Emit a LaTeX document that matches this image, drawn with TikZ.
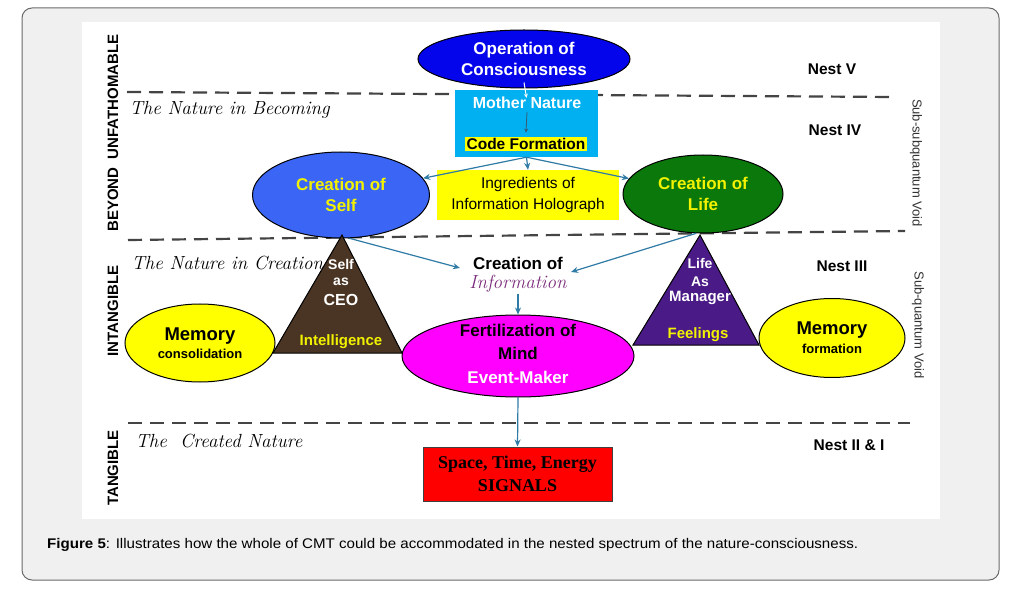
\documentclass[tikz,border=0pt]{standalone}
\usepackage{fontspec}
\newfontfamily\arial{Liberation Sans}
\newfontfamily\tnr{Liberation Serif}
\usetikzlibrary{shapes.geometric,arrows.meta,calc}
\definecolor{framefill}{HTML}{F0F0F0}
\definecolor{frameline}{HTML}{6A6A6A}
\definecolor{dashcol}{HTML}{444444}
\definecolor{opblue}{HTML}{0505EC}
\definecolor{cyanbox}{HTML}{00B0F0}
\definecolor{selfblue}{HTML}{3B66F5}
\definecolor{lifegreen}{HTML}{0A780A}
\definecolor{yel}{HTML}{FFFF00}
\definecolor{txtyel}{HTML}{F2F200}
\definecolor{brownT}{HTML}{4A3524}
\definecolor{purpleT}{HTML}{4A1A86}
\definecolor{magentaE}{HTML}{FF00FF}
\definecolor{redbox}{HTML}{FF0000}
\definecolor{conncol}{HTML}{2F7BA5}
\definecolor{infopurple}{HTML}{7B2D7B}
\definecolor{boxarrow}{HTML}{3A5A70}
\tikzset{
  ell/.style={ellipse, draw=black, line width=1pt, inner sep=0pt, align=center,
    font=\arial\bfseries\fontsize{17}{21}\selectfont},
  conn/.style={draw=conncol, line width=1.2pt, -{Stealth[length=7pt,width=6pt]}},
  divider/.style={draw=dashcol, line width=2.2pt, dash pattern=on 14pt off 8pt},
  sidelabel/.style={font=\arial\bfseries\fontsize{15}{18}\selectfont, rotate=90},
  voidlabel/.style={font=\arial\fontsize{13}{16}\selectfont, rotate=-90, text=black!80},
  nest/.style={font=\arial\bfseries\fontsize{15.5}{18}\selectfont},
  nature/.style={font=\itshape\fontsize{19}{22}\selectfont, anchor=west},
  tritext/.style={font=\arial\bfseries\fontsize{14}{16}\selectfont, text=white, inner sep=0pt},
  triyel/.style={font=\arial\bfseries\fontsize{15}{18}\selectfont, text=txtyel, inner sep=0pt}
}
\begin{document}
\begin{tikzpicture}[x=1pt,y=-1pt]
\useasboundingbox (0,0) rectangle (1027,593);
\fill[white] (0,0) rectangle (1027,593);
% frame
\draw[fill=framefill, draw=frameline, line width=1pt, rounded corners=10pt] (22,8) rectangle (999,580);
\fill[white] (82,22) rectangle (940,519);

% dashed dividers
\draw[divider] (127,92) -- (893,97);
\draw[divider] (128,240) -- (905,231);
\draw[divider] (128,423) -- (910,423);

% side labels
\node[sidelabel] (lab1) at (113,133) {BEYOND\ \ UNFATHOMABLE};
\node[sidelabel] (lab2) at (113,311) {INTANGIBLE};
\node[sidelabel] (lab3) at (113,468) {TANGIBLE};
\node[voidlabel] (void1) at (916,163) {Sub-subquantum Void};
\node[voidlabel] (void2) at (918,325) {Sub-quantum Void};

% nature labels
\node[nature] (nat1) at (126,110) {The Nature in Becoming};
\node[nature] (nat2) at (128,263) {The Nature in Creation};
\node[nature] (nat3) at (132,441) {The\ \ Created Nature};

% nest labels
\node[nest] (n5) at (832,69) {Nest V};
\node[nest] (n4) at (835,130) {Nest IV};
\node[nest] (n3) at (842,266) {Nest III};
\node[nest] (n21) at (849,445) {Nest II \& I};

% top
\node[ell, fill=opblue, text=white, minimum width=212, minimum height=58] (ops) at (524,59) {Operation of\\Consciousness};
\node[fill=cyanbox, minimum width=143, minimum height=67, inner sep=0pt] (mn) at (526.5,123.5) {};
\node[font=\arial\bfseries\fontsize{16}{19}\selectfont, text=white, inner sep=1pt] (mnt) at (527,103) {Mother Nature};
\node[fill=yel, font=\arial\bfseries\fontsize{15.5}{18}\selectfont, inner sep=1.5pt] (code) at (526,144) {Code Formation};
\draw[white, line width=1pt, -{Stealth[length=4pt,width=4pt]}] ($(ops.south)+(0,-6)$) -- ($(mn.north)+(0,8)$);
\draw[boxarrow, line width=0.8pt, -{Stealth[length=4pt,width=4pt]}] ($(mnt.south)+(0,2)$) -- ($(code.north)+(0,-4)$);

\node[fill=yel, minimum width=182, minimum height=50, inner sep=0pt, align=center,
  font=\arial\fontsize{15.5}{21}\selectfont] (ingr) at (528,195) {Ingredients of\\Information Holograph};

\node[ell, fill=selfblue, text=txtyel, minimum width=177, minimum height=86] (self) at (341,195) {Creation of\\Self};
\node[ell, fill=lifegreen, text=txtyel, minimum width=160, minimum height=78] (life) at (703,194) {Creation of\\Life};

\draw[conn] (mn.south) -- (self);
\draw[conn] (mn.south) -- (ingr.north);
\draw[conn] (mn.south) -- (life);

% triangles
\coordinate (tsa) at (342,235);
\coordinate (tla) at (700,235);
\filldraw[fill=brownT, draw=black, line width=1pt] (tsa) -- (402,353) -- (273,353) -- cycle;
\filldraw[fill=purpleT, draw=black, line width=1pt] (tla) -- (759,345) -- (633,345) -- cycle;
\node[tritext] (ts1) at (341,264) {Self};
\node[tritext] (ts2) at (341,282) {as};
\node[tritext, font=\arial\bfseries\fontsize{16}{18}\selectfont] (ts3) at (341,300) {CEO};
\node[triyel] (ts4) at (341,342) {Intelligence};
\node[tritext] (tl1) at (700,263) {Life};
\node[tritext] (tl2) at (700,282) {As};
\node[tritext, font=\arial\bfseries\fontsize{15}{17}\selectfont] (tl3) at (700,298) {Manager};
\node[triyel] (tl4) at (698,335) {Feelings};

% memory ellipses
\node[ellipse, draw=black, line width=1pt, fill=yel, minimum width=150, minimum height=78] (memc) at (200,343) {};
\node[font=\arial\bfseries\fontsize{18.5}{20}\selectfont, inner sep=0pt] (memct) at (200,336) {Memory};
\node[font=\arial\bfseries\fontsize{13}{15}\selectfont, inner sep=0pt] (memcs) at (200,354) {consolidation};
\node[ellipse, draw=black, line width=1pt, fill=yel, minimum width=146, minimum height=79] (memf) at (832,338) {};
\node[font=\arial\bfseries\fontsize{18.5}{20}\selectfont, inner sep=0pt] (memft) at (832,330) {Memory};
\node[font=\arial\bfseries\fontsize{13}{15}\selectfont, inner sep=0pt] (memfs) at (832,349) {formation};

% creation of information
\node[font=\arial\bfseries\fontsize{17}{20}\selectfont, inner sep=1pt] (cinfo) at (518,263) {Creation of};
\node[font=\itshape\fontsize{19}{22}\selectfont, text=infopurple, inner sep=1pt] (info) at (518,284) {Information};

% fertilization
\node[ellipse, draw=black, line width=1pt, fill=magentaE, minimum width=232, minimum height=82] (fert) at (518,356) {};
\node[font=\arial\bfseries\fontsize{17}{20}\selectfont, inner sep=0pt] (fert1) at (518,330) {Fertilization of};
\node[font=\arial\bfseries\fontsize{17}{20}\selectfont, inner sep=0pt] (fert2) at (518,353) {Mind};
\node[font=\arial\bfseries\fontsize{17}{20}\selectfont, text=white, inner sep=0pt] (fert3) at (518,377) {Event-Maker};

\draw[conn] (self.-79) -- ($(cinfo.west)+(-12,5)$);
\draw[conn] (life.-100) -- ($(cinfo.east)+(7,9)$);
\draw[conn] (info.south) -- (fert.north);

% signals
\node[draw=black!75, line width=1pt, fill=redbox, minimum width=189, minimum height=54, inner sep=0pt, align=center,
  font=\tnr\bfseries\fontsize{18}{23}\selectfont] (sig) at (517.5,474) {Space, Time, Energy\\SIGNALS};
\draw[conn] (fert.south) -- (sig.north);

% caption
\node[anchor=west, inner sep=0pt, font=\arial\fontsize{14}{16}\selectfont] (cap) at (47,545)
  {\resizebox{811pt}{\height}{\textbf{Figure 5}: Illustrates how the whole of CMT could be accommodated in the nested spectrum of the nature-consciousness.}};
\end{tikzpicture}
\end{document}
